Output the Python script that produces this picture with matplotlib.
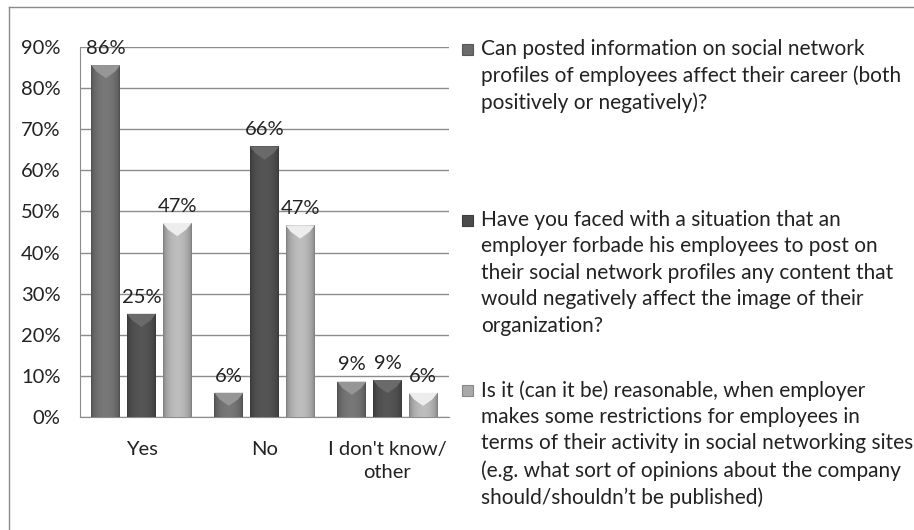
import numpy as np
import matplotlib.pyplot as plt
from matplotlib.patches import Polygon, Rectangle
from matplotlib.colors import to_rgb

plt.rcParams['font.family'] = ['Lato', 'DejaVu Sans']

# data
categories = ['Yes', 'No', "I don't know/\nother"]
q1_values = [85.6, 5.9, 8.6]
q2_values = [25.1, 65.8, 9.0]
q3_values = [47.2, 46.6, 5.9]
series_labels = [
    'Can posted information on social network\nprofiles of employees affect their career (both\npositively or negatively)?',
    'Have you faced with a situation that an\nemployer forbade his employees to post on\ntheir social network profiles any content that\nwould negatively affect the image of their\norganization?',
    'Is it (can it be) reasonable, when employer\nmakes some restrictions for employees in\nterms of their activity in social networking sites\n(e.g. what sort of opinions about the company\nshould/shouldn\u2019t be published)',
]
y_ticks = [0, 10, 20, 30, 40, 50, 60, 70, 80, 90]

series = [q1_values, q2_values, q3_values]
colors = ['#6b6b6b', '#4c4c4c', '#a9a9a9']

W, H = 914, 530
fig = plt.figure(figsize=(W / 100, H / 100), dpi=100)

# outer frame (left and top edges visible)
fig.add_artist(plt.Line2D([9 / W, 9 / W], [0, 1 - 7 / H], color='#8a8a8a', lw=1))
fig.add_artist(plt.Line2D([9 / W, 1], [1 - 7 / H, 1 - 7 / H], color='#8a8a8a', lw=1))

ax = fig.add_axes([80 / W, 1 - 417 / H, 369 / W, 370 / H])
ax.set_xlim(-0.5, 2.5)
ax.set_ylim(0, 90)
ax.set_yticks(y_ticks)
ax.set_yticklabels([f'{t}%' for t in y_ticks], fontsize=14.5, color='#222222')
ax.tick_params(axis='y', length=0, pad=14)
ax.tick_params(axis='x', length=0, pad=17)
ax.set_xticks(range(len(categories)))
ax.set_xticklabels(categories, fontsize=14.5, color='#222222', linespacing=1.45)
ax.yaxis.grid(True, color='#8c8c8c', lw=1)
ax.set_axisbelow(True)
for side in ['top', 'right']:
    ax.spines[side].set_visible(False)
for side in ['left', 'bottom']:
    ax.spines[side].set_color('#8c8c8c')

x = np.arange(len(categories))
bw = 0.235
step = 0.29
grad = np.linspace(0, 1, 64)
shade = np.sin(np.pi * grad) ** 0.5

for i, (vals, col) in enumerate(zip(series, colors)):
    pos = x + (i - 1) * step
    bars = ax.bar(pos, vals, width=bw, color=col, edgecolor='none', zorder=2)
    base = np.array(to_rgb(col))
    for b, v in zip(bars, vals):
        x0 = b.get_x()
        # horizontal gradient, darker at the edges
        img = np.clip(base[None, :] * (0.72 + 0.4 * shade[:, None]), 0, 1)
        im = ax.imshow(img[None, :, :], extent=[x0, x0 + bw, 0, v], aspect='auto',
                       zorder=3, interpolation='bilinear')
        im.set_clip_path(b)
        # bevel at the top
        bev = min(1.6, v * 0.3)
        top = Polygon([[x0, v], [x0 + bw, v], [x0 + bw * 0.82, v - bev],
                       [x0 + bw * 0.5, v - bev * 2.0], [x0 + bw * 0.18, v - bev]],
                      closed=True, facecolor=np.clip(base * 1.4, 0, 1),
                      edgecolor='none', zorder=4)
        ax.add_patch(top)
        ax.text(x0 + bw / 2, v + 2.0, f'{v:.0f}%', ha='center', va='bottom',
                fontsize=14.5, color='#222222', zorder=5)

# legend written as text blocks
legend_tops = [49, 220, 390]
for lab, col, yt in zip(series_labels, colors, legend_tops):
    base = np.array(to_rgb(col))
    fig.add_artist(Rectangle((462 / W, 1 - (yt + 6) / H), 11 / W, 11 / H,
                             transform=fig.transFigure, facecolor=base,
                             edgecolor=base * 0.8, lw=0.8))
    fig.text(481 / W, 1 - (yt - 10) / H, lab, ha='left', va='top', fontsize=15,
             color='#222222', linespacing=1.4)

fig.savefig('out.png', dpi=100)
